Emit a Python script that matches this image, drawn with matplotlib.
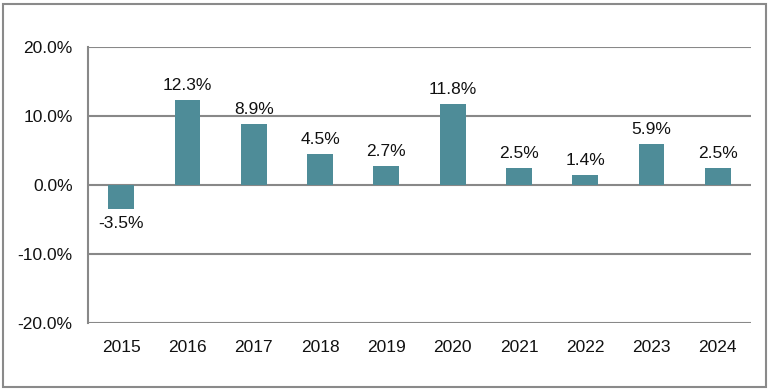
import matplotlib.pyplot as plt
from matplotlib.patches import Rectangle

years = ['2015', '2016', '2017', '2018', '2019', '2020', '2021', '2022', '2023', '2024']
values = [-3.5, 12.3, 8.9, 4.5, 2.7, 11.8, 2.5, 1.4, 5.9, 2.5]
yticks = [-20, -10, 0, 10, 20]

plt.rcParams['font.family'] = ['Liberation Sans', 'DejaVu Sans']

fig = plt.figure(figsize=(7.72, 3.92), dpi=100)
ax = fig.add_axes([88 / 772, 1 - 323 / 392, (751 - 88) / 772, (323 - 47) / 392])

bar_color = '#4e8c98'
fs = 12.5
x = range(len(years))
ax.bar(x, values, width=0.39, color=bar_color, zorder=3)

for i, v in enumerate(values):
    if v >= 0:
        ax.text(i, v + 1.0, f'{v:.1f}%', ha='center', va='bottom', fontsize=fs, color='#111111')
    else:
        ax.text(i, v - 1.0, f'{v:.1f}%', ha='center', va='top', fontsize=fs, color='#111111')

ax.set_xlim(-0.5, len(years) - 0.5)
ax.set_ylim(-20, 20)
ax.set_yticks(yticks)
ax.set_yticklabels([f'{t:.1f}%' for t in yticks], fontsize=fs, color='#111111')
ax.set_xticks(list(x))
ax.set_xticklabels(years, fontsize=fs, color='#111111')
ax.tick_params(axis='both', length=0)
ax.tick_params(axis='y', pad=11)
ax.tick_params(axis='x', pad=12)

ax.yaxis.grid(True, color='#888888', linewidth=1.5, zorder=0)
for s in ['top', 'right', 'bottom']:
    ax.spines[s].set_visible(False)
ax.spines['left'].set_color('#888888')
ax.spines['left'].set_linewidth(1.5)

# outer border
fig.patches.append(Rectangle((3 / 772, 5 / 392), 763 / 772, 383 / 392, transform=fig.transFigure,
                             fill=False, edgecolor='#8a8a8a', linewidth=1.5))

fig.savefig('out.png', dpi=100)
